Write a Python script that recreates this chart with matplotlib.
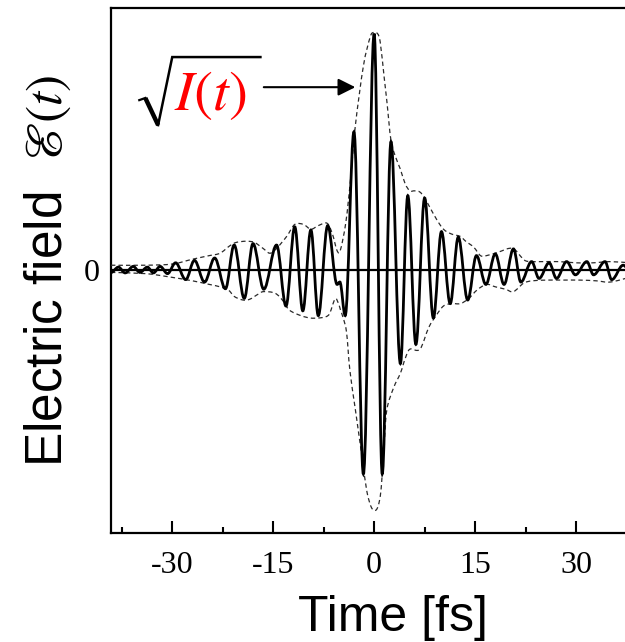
import matplotlib
matplotlib.use("Agg")
import matplotlib.pyplot as plt
from matplotlib.path import Path
from matplotlib.patches import PathPatch
from matplotlib.ticker import FixedLocator

plt.rcParams["mathtext.fontset"] = "stix"
plt.rcParams["axes.unicode_minus"] = False

# turning points of the field trace (time in fs, normalised field)
wave_t = [-39.1, -38.0, -37.0, -35.8, -34.8, -33.7, -32.8, -31.8, -30.7,
          -29.5, -28.0, -26.7, -25.2, -23.7, -22.1, -20.8, -19.3, -18.0,
          -16.4, -14.5, -13.1, -11.8, -10.6, -9.4, -8.3, -6.9, -5.5, -5.1,
          -4.3, -3.0, -1.6, 0.0, 1.2, 2.5, 3.9, 5.0, 6.2, 7.5, 8.8, 10.0,
          11.3, 12.5, 13.9, 15.2, 16.6, 18.0, 19.3, 20.7, 21.8, 23.4, 24.5,
          26.0, 27.1, 28.6, 29.9, 31.6, 32.6, 34.3, 35.3, 37.0, 38.2]
wave_v = [-0.01, 0.012, -0.012, 0.015, -0.01, 0.012, -0.012, 0.015, -0.015,
          0.03, -0.04, 0.04, -0.05, 0.05, -0.078, 0.104, -0.118, 0.11,
          -0.08, 0.104, -0.15, 0.18, -0.17, 0.167, -0.19, 0.185, -0.06, -0.05,
          -0.19, 0.576, -0.85, 0.985, -0.85, 0.535, -0.39, 0.31, -0.31, 0.30,
          -0.20, 0.16, -0.14, 0.137, -0.125, 0.06, -0.06, 0.067, -0.06, 0.088,
          -0.05, 0.035, -0.035, 0.03, -0.035, 0.035, -0.02, 0.035, -0.02,
          0.035, -0.04, 0.02, -0.01]

# dashed envelope sqrt(I(t)), upper and lower
env_hi_t = [-39.1, -34.0, -30.0, -27.0, -24.5, -22.9, -21.5, -20.5, -19.0,
            -17.8, -16.5, -15.5, -14.5, -13.0, -11.8, -10.5, -9.4, -8.3,
            -7.0, -6.2, -5.5, -5.0, -4.2, -3.5, -2.8, -1.6, -0.6, -0.1, 0.5,
            0.9, 1.5, 1.9, 2.5, 3.2, 3.9, 4.6, 5.3, 6.0, 6.8, 7.5, 8.3, 9.3,
            10.3, 11.5, 12.8, 13.6, 14.8, 15.8, 16.7, 18.5, 20.0, 20.9, 22.0,
            22.8, 25.0, 27.5, 30.0, 32.5, 35.0, 38.0]
env_hi_v = [0.02, 0.02, 0.025, 0.045, 0.06, 0.07, 0.10, 0.115, 0.12,
            0.115, 0.09, 0.07, 0.09, 0.14, 0.19, 0.19, 0.17, 0.185,
            0.195, 0.15, 0.08, 0.085, 0.20, 0.38, 0.60, 0.85, 0.97, 0.99,
            0.985, 0.95, 0.80, 0.70, 0.54, 0.47, 0.42, 0.36, 0.33, 0.33,
            0.325, 0.30, 0.26, 0.21, 0.17, 0.15, 0.14, 0.12, 0.095, 0.06,
            0.06, 0.075, 0.09, 0.085, 0.05, 0.036, 0.035, 0.035, 0.03, 0.03,
            0.035, 0.03]
env_lo_t = [-39.1, -34.0, -30.6, -27.0, -24.5, -22.9, -21.6, -20.8, -19.5,
            -18.5, -17.2, -16.4, -14.7, -13.5, -12.6, -10.9, -9.5, -8.3,
            -7.2, -6.6, -5.8, -5.3, -5.0, -4.6, -4.1, -3.6, -2.8, -1.8, -1.1,
            -0.4, 0.3, 0.8, 1.1, 1.5, 1.9, 2.9, 3.9, 4.6, 5.3, 6.8, 8.1, 9.2,
            10.3, 11.5, 12.8, 14.0, 15.3, 16.7, 18.0, 19.5, 20.7, 22.2, 23.5,
            25.7, 28.0, 30.6, 33.0, 35.1, 38.0]
env_lo_v = [-0.01, -0.015, -0.028, -0.045, -0.06, -0.07, -0.085, -0.11,
            -0.125, -0.122, -0.10, -0.09, -0.097, -0.13, -0.167, -0.19, -0.20,
            -0.20, -0.195, -0.18, -0.12, -0.14, -0.167, -0.20, -0.26, -0.42,
            -0.58, -0.78, -0.92, -0.99, -1.0, -0.96, -0.89, -0.72, -0.58,
            -0.49, -0.43, -0.37, -0.33, -0.33, -0.24, -0.19, -0.15, -0.14,
            -0.14, -0.12, -0.083, -0.06, -0.07, -0.08, -0.09, -0.055, -0.045,
            -0.042, -0.042, -0.042, -0.045, -0.05, -0.03]

xtick_vals = [-30, -15, 0, 15, 30]
xminor_vals = [-37.5, -22.5, -7.5, 7.5, 22.5, 37.5]


def osc_path(ts, vs):
    # cubic pieces with flat tangents at every turning point
    verts = [(ts[0], vs[0])]
    codes = [Path.MOVETO]
    for i in range(1, len(ts)):
        dt = ts[i] - ts[i - 1]
        verts += [(ts[i - 1] + 0.364 * dt, vs[i - 1]),
                  (ts[i] - 0.364 * dt, vs[i]), (ts[i], vs[i])]
        codes += [Path.CURVE4] * 3
    return Path(verts, codes)


def smooth_path(ts, vs):
    # catmull-rom through the points
    pts = list(zip(ts, vs))
    n = len(pts)
    verts = [pts[0]]
    codes = [Path.MOVETO]
    for i in range(n - 1):
        p0 = pts[max(i - 1, 0)]
        p1 = pts[i]
        p2 = pts[i + 1]
        p3 = pts[min(i + 2, n - 1)]
        c1 = (p1[0] + (p2[0] - p0[0]) / 6, p1[1] + (p2[1] - p0[1]) / 6)
        c2 = (p2[0] - (p3[0] - p1[0]) / 6, p2[1] - (p3[1] - p1[1]) / 6)
        verts += [c1, c2, p2]
        codes += [Path.CURVE4] * 3
    return Path(verts, codes)


fig = plt.figure(figsize=(6.25, 6.42), dpi=100)
ax = fig.add_axes([111 / 625, 109 / 642, 564 / 625, 525 / 642])
ax.set_xlim(-39.1, 44.7)
ax.set_ylim(-1.096, 1.092)

ax.axhline(0, color="black", lw=1.6, zorder=2)
for t, v in ((env_hi_t, env_hi_v), (env_lo_t, env_lo_v)):
    ax.add_patch(PathPatch(smooth_path(t, v), fill=False, ec="#2a2a2a",
                           lw=0.9, ls=(0, (3.5, 2.5)), zorder=3))
ax.add_patch(PathPatch(osc_path(wave_t, wave_v), fill=False, ec="black",
                       lw=2.0, zorder=4))

ax.spines["right"].set_visible(False)
for s in ("left", "top", "bottom"):
    ax.spines[s].set_linewidth(1.6)

ax.xaxis.set_major_locator(FixedLocator(xtick_vals))
ax.xaxis.set_minor_locator(FixedLocator(xminor_vals))
ax.set_xticklabels([str(v) for v in xtick_vals])
ax.set_yticks([0])
ax.set_yticklabels(["0"])
ax.tick_params(axis="x", which="major", direction="in", length=9, width=1.5,
               pad=13, top=False)
ax.tick_params(axis="x", which="minor", direction="in", length=4.5,
               width=1.5, top=False)
ax.tick_params(axis="y", direction="in", length=0, pad=8)
for lab in ax.get_xticklabels() + ax.get_yticklabels():
    lab.set_fontfamily("Liberation Serif")
    lab.set_fontsize(23)

ax.set_xlabel("Time [fs]", fontfamily="Liberation Sans", fontsize=36,
              labelpad=11)
ax.set_ylabel(r"Electric field  $\mathscr{E}(t)$", fontfamily="Liberation Sans",
              fontsize=37, labelpad=8)

# sqrt(I(t)) label with arrow
ax.text(-29.8, 0.73, r"$I(t)$", color="red", fontsize=41, va="center",
        ha="left")
ax.plot([-34.9, -34.0], [0.708, 0.717], color="black", lw=1.6,
        clip_on=False)
ax.plot([-34.0, -32.1], [0.717, 0.604], color="black", lw=3.2,
        solid_capstyle="butt", clip_on=False)
ax.plot([-32.1, -30.0, -16.9], [0.604, 0.8875, 0.8875], color="black",
        lw=1.8, solid_joinstyle="miter", clip_on=False)
ax.annotate("", xy=(-2.8, 0.762), xytext=(-16.4, 0.762),
            arrowprops=dict(arrowstyle="-|>", color="black", lw=1.5,
                            mutation_scale=26, shrinkA=0, shrinkB=0))

fig.savefig("out.png", dpi=100)
